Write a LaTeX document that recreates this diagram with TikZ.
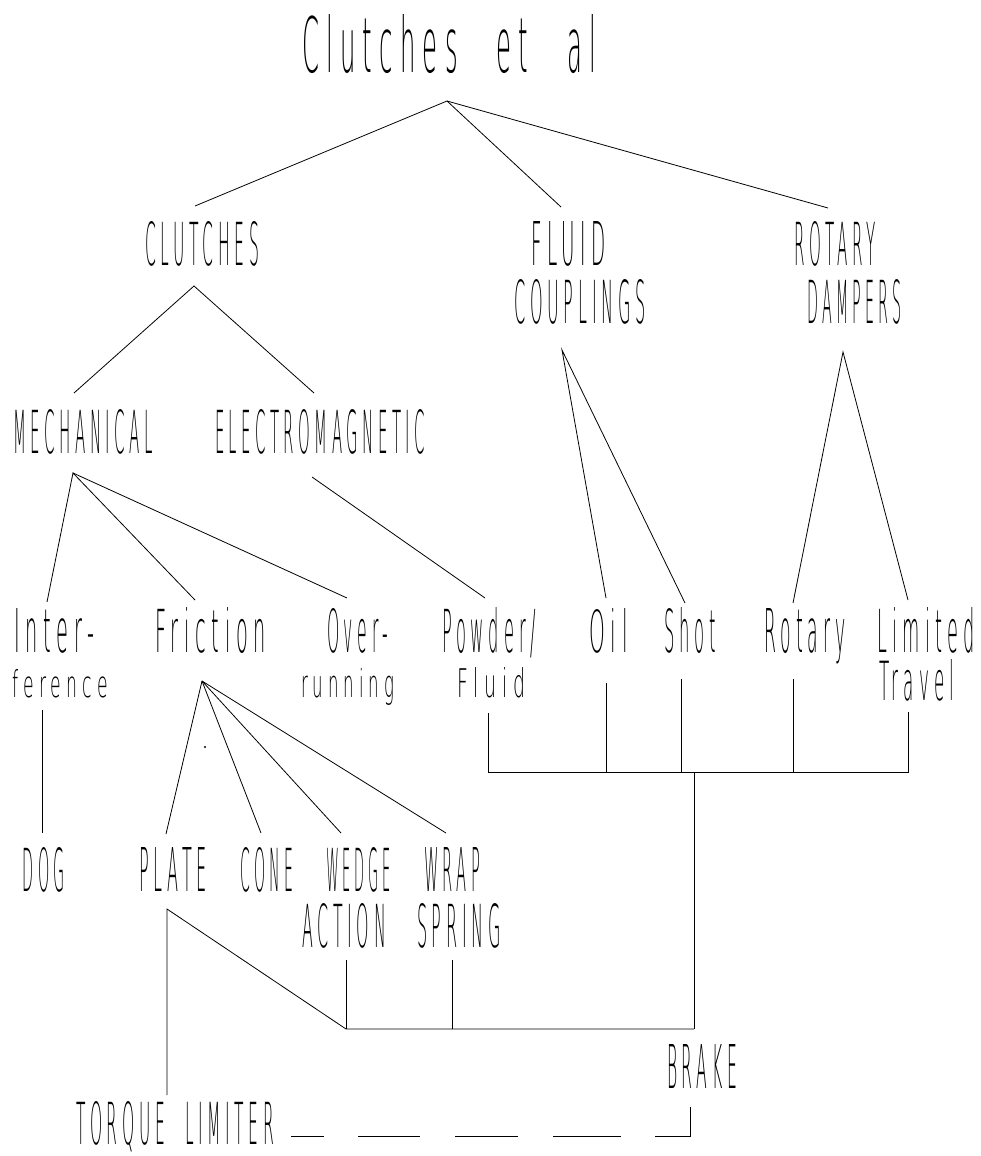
\documentclass[tikz,border=0pt]{standalone}
\usepackage{fontspec}
\usepackage{graphicx}
% thin, widely spaced lettering in the style of a pen plotter
\newfontfamily\plotfont[LetterSpace=30]{DejaVu Sans ExtraLight}
% a label squeezed to a given width and height (in pt)
\newcommand\plotlabel[3]{\resizebox{#1pt}{#2pt}{\plotfont #3}}
\tikzset{
  lbl/.style={anchor=base west, inner sep=0pt, outer sep=0pt,
    font=\fontsize{60}{60}\selectfont},
  wire/.style={draw=black, line width=0.8pt, line join=miter},
  dashwire/.style={wire, dash pattern=on 33pt off 34pt on 62pt off 35pt on 63pt off 35pt on 68pt off 34pt on 70pt}
}
\begin{document}
\begin{tikzpicture}[x=1pt, y=-1pt]
\useasboundingbox (0,0) rectangle (980,1156);

% ---- labels ----
\node[lbl] (title) at (302,73)
  {\plotlabel{294}{58}{Clutches\hspace{1.6em}et\hspace{1.6em}al}};

\node[lbl] (clutches)  at (145,265) {\plotlabel{114}{44}{CLUTCHES}};
\node[lbl] (fluid)     at (531,265) {\plotlabel{75}{44}{FLUID}};
\node[lbl] (couplings) at (514,323) {\plotlabel{132}{44}{COUPLINGS}};
\node[lbl] (rotary)    at (794,265) {\plotlabel{82}{44}{ROTARY}};
\node[lbl] (dampers)   at (807,323) {\plotlabel{95}{44}{DAMPERS}};

\node[lbl] (mech)    at (13,453)  {\plotlabel{140}{44}{MECHANICAL}};
\node[lbl] (electro) at (215,453) {\plotlabel{210}{44}{ELECTROMAGNETIC}};

\node[lbl] (inter)    at (14,652)  {\plotlabel{80}{44}{Inter-}};
\node[lbl] (ference)  at (12,697)  {\plotlabel{96}{28}{ference}};
\node[lbl] (friction) at (155,652) {\plotlabel{111}{45}{Friction}};
\node[lbl] (over)     at (327,652) {\plotlabel{61}{44}{Over-}};
\node[lbl] (running)  at (301,697) {\plotlabel{93}{29}{running}};
\node[lbl] (powder)   at (442,652) {\plotlabel{94}{45}{Powder/}};
\node[lbl] (pfluid)   at (457,697) {\plotlabel{68}{30}{Fluid}};
\node[lbl] (oil)      at (589,652) {\plotlabel{39}{44}{Oil}};
\node[lbl] (shot)     at (664,652) {\plotlabel{52}{45}{Shot}};
\node[lbl] (rotsub)   at (764,652) {\plotlabel{82}{44}{Rotary}};
\node[lbl] (limited)  at (877,652) {\plotlabel{98}{45}{Limited}};
\node[lbl] (travel)   at (879,700) {\plotlabel{75}{41}{Travel}};

\node[lbl] (dog)    at (23,891)  {\plotlabel{42}{44}{DOG}};
\node[lbl] (plate)  at (139,891) {\plotlabel{68}{44}{PLATE}};
\node[lbl] (cone)   at (240,891) {\plotlabel{53}{44}{CONE}};
\node[lbl] (wedge)  at (326,891) {\plotlabel{65}{44}{WEDGE}};
\node[lbl] (wrap)   at (424,891) {\plotlabel{56}{44}{WRAP}};
\node[lbl] (action) at (302,947) {\plotlabel{84}{44}{ACTION}};
\node[lbl] (spring) at (417,947) {\plotlabel{84}{44}{SPRING}};

\node[lbl] (brake)  at (667,1088) {\plotlabel{70}{44}{BRAKE}};
\node[lbl] (torque) at (76,1144)
  {\plotlabel{198}{43}{TORQUE\hspace{1.3em}LIMITER}};

% ---- connector end points ----
\coordinate (title-tip)     at (447,101);
\coordinate (clutches-top)  at (195,206);
\coordinate (fluid-top)     at (561,207);
\coordinate (rotary-top)    at (828,208);

\coordinate (clutches-tip)  at (194,286);
\coordinate (mech-top)      at (74,393);
\coordinate (electro-top)   at (314,393);

\coordinate (couplings-tip) at (562,350);
\coordinate (oil-top)       at (606,598);
\coordinate (shot-top)      at (685,603);
\coordinate (dampers-tip)   at (843,352);
\coordinate (rotsub-top)    at (793,603);
\coordinate (limited-top)   at (908,600);

\coordinate (mech-tip)      at (73,473);
\coordinate (inter-top)     at (47,602);
\coordinate (friction-top)  at (195,600);
\coordinate (over-top)      at (347,598);
\coordinate (electro-tip)   at (312,477);
\coordinate (powder-top)    at (485,598);

\coordinate (friction-tip)  at (202,681);
\coordinate (plate-top)     at (166,834);
\coordinate (cone-top)      at (261,833);
\coordinate (wedge-top)     at (341,833);
\coordinate (wrap-top)      at (446,833);

\coordinate (inter-foot)    at (42,710);
\coordinate (dog-head)      at (42,833);

\coordinate (powder-foot)   at (488,713);
\coordinate (oil-foot)      at (606,683);
\coordinate (shot-foot)     at (681,679);
\coordinate (rotsub-foot)   at (793,679);
\coordinate (limited-foot)  at (908,712);
\coordinate (bus-left)      at (488,772);
\coordinate (bus-right)     at (908,772);
\coordinate (oil-bus)       at (606,772);
\coordinate (shot-bus)      at (681,772);
\coordinate (rotsub-bus)    at (793,772);
\coordinate (bus-drop)      at (694,772);

\coordinate (plate-foot)    at (167,909);
\coordinate (torque-head)   at (167,1095);
\coordinate (low-left)      at (346,1029);
\coordinate (low-right)     at (694,1029);
\coordinate (action-foot)   at (346,960);
\coordinate (spring-foot)   at (452,960);
\coordinate (spring-low)    at (452,1029);

\coordinate (torque-end)    at (291,1136);
\coordinate (brake-corner)  at (690,1136);
\coordinate (brake-foot)    at (690,1107);

% ---- tree ----
\draw[wire] (clutches-top) -- (title-tip) -- (rotary-top);
\draw[wire] (title-tip) -- (fluid-top);

\draw[wire] (mech-top) -- (clutches-tip) -- (electro-top);

\draw[wire] (oil-top) -- (couplings-tip) -- (shot-top);
\draw[wire] (rotsub-top) -- (dampers-tip) -- (limited-top);

\draw[wire] (inter-top) -- (mech-tip) -- (friction-top);
\draw[wire] (mech-tip) -- (over-top);
\draw[wire] (electro-tip) -- (powder-top);

\draw[wire] (friction-tip) -- (plate-top);
\draw[wire] (friction-tip) -- (cone-top);
\draw[wire] (friction-tip) -- (wedge-top);
\draw[wire] (friction-tip) -- (wrap-top);
\fill (205,747) circle (1.2);

\draw[wire] (inter-foot) -- (dog-head);

% ---- brake bus ----
\draw[wire] (powder-foot) -- (bus-left) -- (bus-right) -- (limited-foot);
\draw[wire] (oil-foot) -- (oil-bus);
\draw[wire] (shot-foot) -- (shot-bus);
\draw[wire] (rotsub-foot) -- (rotsub-bus);
\draw[wire] (bus-drop) -- (low-right);

\draw[wire] (torque-head) -- (plate-foot) -- (low-left) -- (low-right);
\draw[wire] (action-foot) -- (low-left);
\draw[wire] (spring-foot) -- (spring-low);

% ---- torque limiter to brake ----
\draw[dashwire] (torque-end) -- (brake-corner) -- (brake-foot);
\end{tikzpicture}
\end{document}
